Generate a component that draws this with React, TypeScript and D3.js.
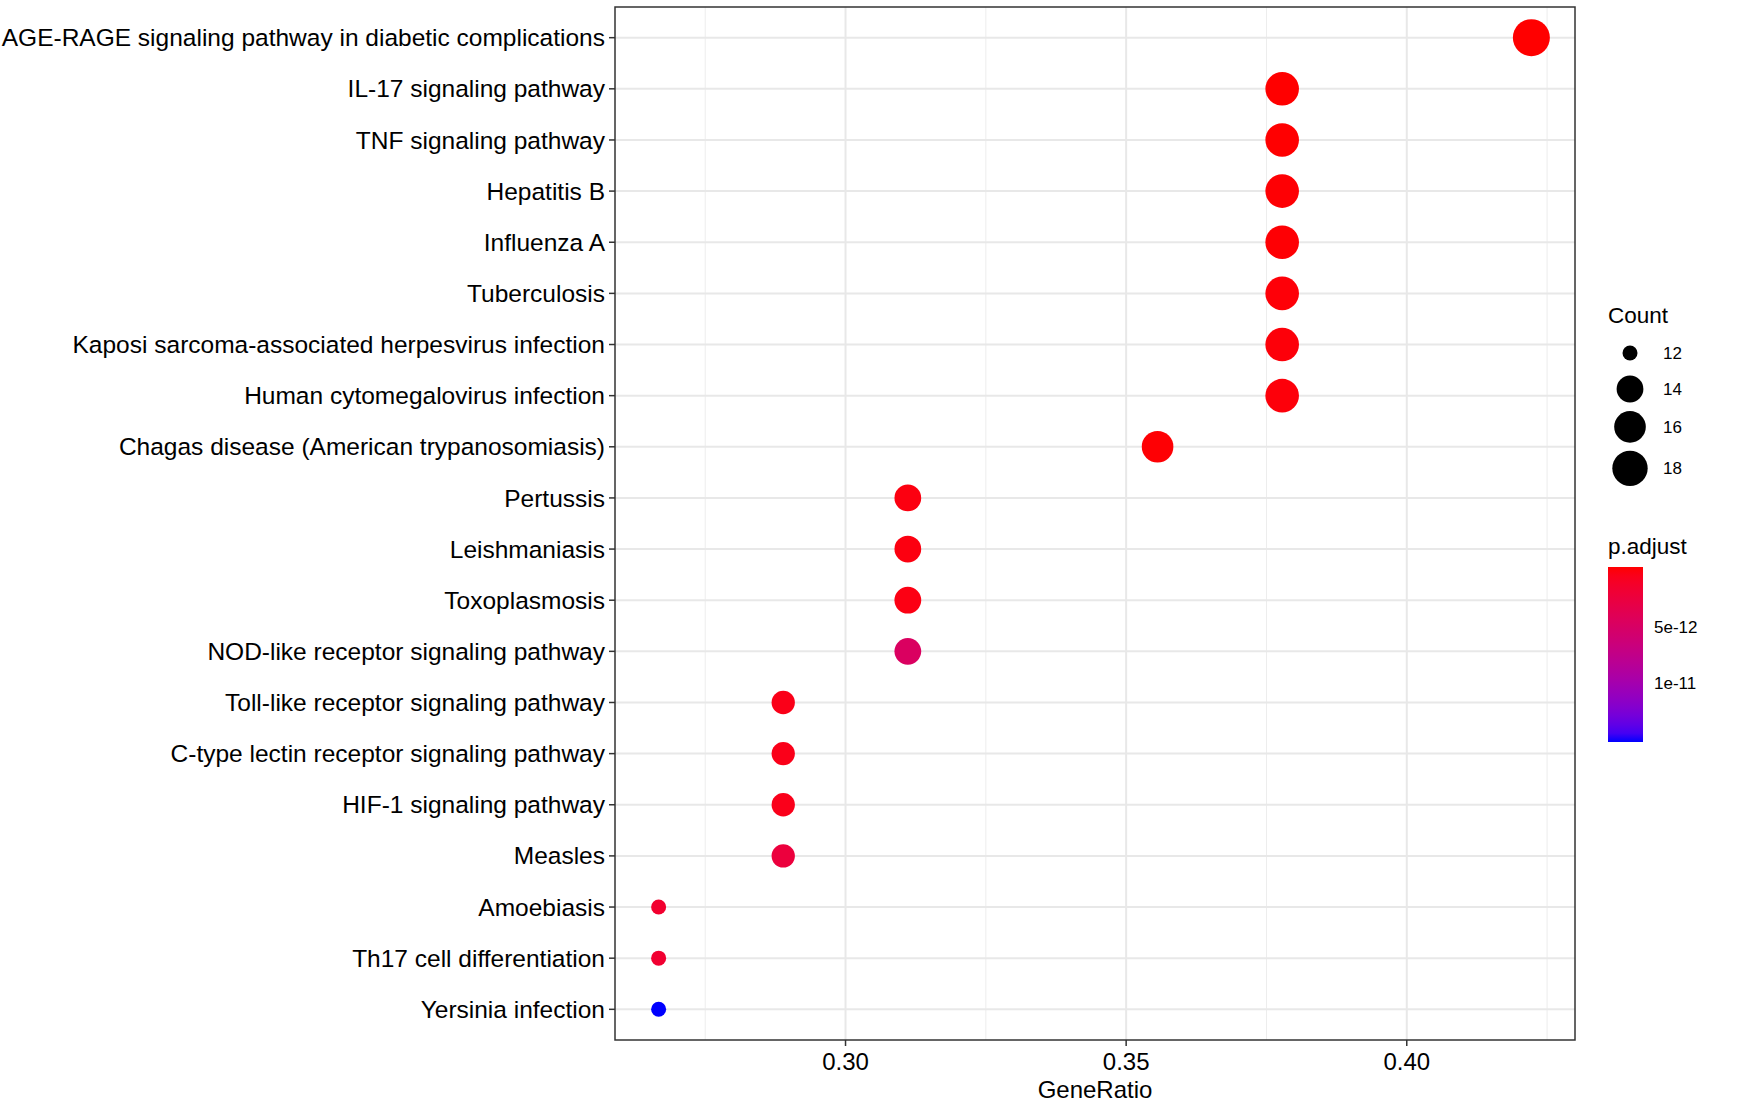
import { useEffect } from "react";
import * as d3 from "d3";

// pathways, top to bottom
const pathways = [
  "AGE-RAGE signaling pathway in diabetic complications",
  "IL-17 signaling pathway",
  "TNF signaling pathway",
  "Hepatitis B",
  "Influenza A",
  "Tuberculosis",
  "Kaposi sarcoma-associated herpesvirus infection",
  "Human cytomegalovirus infection",
  "Chagas disease (American trypanosomiasis)",
  "Pertussis",
  "Leishmaniasis",
  "Toxoplasmosis",
  "NOD-like receptor signaling pathway",
  "Toll-like receptor signaling pathway",
  "C-type lectin receptor signaling pathway",
  "HIF-1 signaling pathway",
  "Measles",
  "Amoebiasis",
  "Th17 cell differentiation",
  "Yersinia infection",
];

const geneRatio = [
  0.4222, 0.3778, 0.3778, 0.3778, 0.3778, 0.3778, 0.3778, 0.3778, 0.3556,
  0.3111, 0.3111, 0.3111, 0.3111, 0.2889, 0.2889, 0.2889, 0.2889, 0.2667,
  0.2667, 0.2667,
];

const counts = [19, 17, 17, 17, 17, 17, 17, 17, 16, 14, 14, 14, 14, 13, 13, 13, 13, 12, 12, 12];

const pAdjust = [
  1.5e-14, 2.0e-14, 3.0e-14, 1.0e-13, 1.2e-13, 2.0e-13, 2.4e-13, 2.6e-13, 1.1e-13,
  4.0e-13, 4.2e-13, 5.0e-13, 4.8e-12, 7.0e-13, 7.2e-13, 7.5e-13, 2.6e-12, 1.8e-12,
  1.9e-12, 1.49e-11,
];

const xTicks = [0.3, 0.35, 0.4];
const xMinor = [0.275, 0.325, 0.375, 0.425];
const countBreaks = [12, 14, 16, 18];
const pBreaks = [5e-12, 1e-11];

const W = 1749;
const H = 1116;
const panel = { left: 615, right: 1575, top: 7, bottom: 1040 };
const FONT = "'Liberation Sans', Arial, sans-serif";

export default function App() {
  useEffect(() => {
    document.body.style.margin = "0";
  }, []);

  const [xmin, xmax] = d3.extent(geneRatio) as [number, number];
  const pad = (xmax - xmin) * 0.05;
  const x = d3.scaleLinear().domain([xmin - pad, xmax + pad]).range([panel.left, panel.right]);
  const y = d3.scalePoint<string>().domain(pathways).range([panel.top, panel.bottom]).padding(0.6);

  const [cmin, cmax] = d3.extent(counts) as [number, number];
  const sizeT = d3.scaleLinear().domain([cmin, cmax]).range([0, 1]);
  const rScale = d3.scaleSqrt().domain([0, 1]).range([7.5, 18.5]);
  const radius = (c: number) => rScale(sizeT(c));

  const [pmin, pmax] = d3.extent(pAdjust) as [number, number];
  const color = d3
    .scaleLinear<string>()
    .domain([pmin, pmax])
    .range(["red", "blue"])
    .interpolate(d3.interpolateLab);

  const rows = pathways.map((p, i) => ({
    name: p,
    ratio: geneRatio[i],
    count: counts[i],
    p: pAdjust[i],
  }));

  // size legend layout
  const sizeLegendX = 1630;
  let cursor = 335;
  const sizeItems = countBreaks.map((c) => {
    const r = radius(c);
    const h = Math.max(2 * r + 8, 36);
    const cy = cursor + h / 2;
    cursor += h;
    return { c, r, cy };
  });

  // colour bar
  const bar = { x: 1608, y: 567, w: 35, h: 175 };
  const barPos = d3
    .scaleLinear()
    .domain([pmin, pmax])
    .range([bar.y + bar.h * 0.025, bar.y + bar.h * 0.975]);
  const stops = d3.range(0, 21).map((i) => i / 20);

  return (
    <svg width={W} height={H} style={{ display: "block", background: "#fff" }} fontFamily={FONT}>
      <defs>
        <linearGradient id="pgrad" x1="0" y1="0" x2="0" y2="1">
          {stops.map((s) => (
            <stop key={s} offset={s} stopColor={color(pmin + (pmax - pmin) * s)} />
          ))}
        </linearGradient>
      </defs>
      <rect x={0} y={0} width={W} height={H} fill="#fff" />

      {/* grid */}
      {xMinor.map((t) => (
        <line key={"mn" + t} x1={x(t)} x2={x(t)} y1={panel.top} y2={panel.bottom} stroke="#ededed" strokeWidth={1} />
      ))}
      {xTicks.map((t) => (
        <line key={"mj" + t} x1={x(t)} x2={x(t)} y1={panel.top} y2={panel.bottom} stroke="#e8e8e8" strokeWidth={2} />
      ))}
      {pathways.map((p) => (
        <line key={"h" + p} x1={panel.left} x2={panel.right} y1={y(p)} y2={y(p)} stroke="#e8e8e8" strokeWidth={2} />
      ))}

      {/* points */}
      {rows.map((d) => (
        <circle key={d.name} cx={x(d.ratio)} cy={y(d.name)} r={radius(d.count)} fill={color(d.p)} />
      ))}

      {/* panel border */}
      <rect
        x={panel.left}
        y={panel.top}
        width={panel.right - panel.left}
        height={panel.bottom - panel.top}
        fill="none"
        stroke="#333"
        strokeWidth={1.5}
      />

      {/* y axis */}
      {pathways.map((p) => (
        <g key={"yl" + p}>
          <line x1={panel.left - 6} x2={panel.left} y1={y(p)} y2={y(p)} stroke="#333" strokeWidth={1.5} />
          <text x={panel.left - 10} y={y(p)} dy="0.35em" textAnchor="end" fontSize={24.5} fill="#000">
            {p}
          </text>
        </g>
      ))}

      {/* x axis */}
      {xTicks.map((t) => (
        <g key={"xt" + t}>
          <line x1={x(t)} x2={x(t)} y1={panel.bottom} y2={panel.bottom + 6} stroke="#333" strokeWidth={1.5} />
          <text x={x(t)} y={panel.bottom + 30} textAnchor="middle" fontSize={24} fill="#000">
            {d3.format(".2f")(t)}
          </text>
        </g>
      ))}
      <text x={(panel.left + panel.right) / 2} y={1098} textAnchor="middle" fontSize={24} fill="#000">
        GeneRatio
      </text>

      {/* size legend */}
      <text x={1608} y={323} fontSize={22.5} fill="#000">
        Count
      </text>
      {sizeItems.map((d) => (
        <g key={"sz" + d.c}>
          <circle cx={sizeLegendX} cy={d.cy} r={d.r} fill="#000" />
          <text x={1663} y={d.cy} dy="0.35em" fontSize={17} fill="#000">
            {d.c}
          </text>
        </g>
      ))}

      {/* colour legend */}
      <text x={1608} y={554} fontSize={22.5} fill="#000">
        p.adjust
      </text>
      <rect x={bar.x} y={bar.y} width={bar.w} height={bar.h} fill="url(#pgrad)" />
      {pBreaks.map((b) => (
        <text key={"pb" + b} x={1654} y={barPos(b)} dy="0.35em" fontSize={17} fill="#000">
          {b === 5e-12 ? "5e-12" : "1e-11"}
        </text>
      ))}
    </svg>
  );
}
